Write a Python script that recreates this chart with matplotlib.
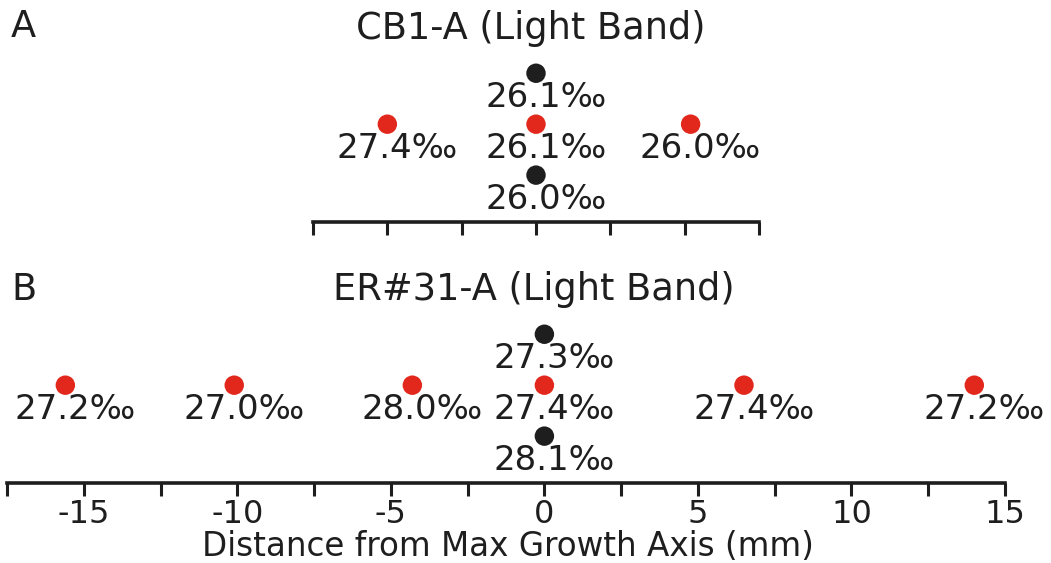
import matplotlib; matplotlib.use("Agg")
import matplotlib.pyplot as plt
from matplotlib.ticker import MultipleLocator, FuncFormatter

plt.rcParams.update({"font.family": "DejaVu Sans", "axes.unicode_minus": False})

RED = "#e2281c"
BLK = "#1e1e1e"

# panel A: CB1-A, distance (mm), row (1 = lower black, 2 = red line, 3 = upper black)
A_x = [0, -5, 0, 5.2, 0]
A_row = [3, 2, 2, 2, 1]
A_val = ["26.1", "27.4", "26.1", "26.0", "26.0"]
A_col = [BLK, RED, RED, RED, BLK]

# panel B: ER#31-A
B_x = [0, -15.6, -10.1, -4.3, 0, 6.5, 14.0, 0]
B_row = [3, 2, 2, 2, 2, 2, 2, 1]
B_val = ["27.3", "27.2", "27.0", "28.0", "27.4", "27.4", "27.2", "28.1"]
B_col = [BLK, RED, RED, RED, RED, RED, RED, BLK]

W, H = 1051, 563
fig = plt.figure(figsize=(W/100, H/100), dpi=100)

def panel(left, right, spine_y, xlim, xs, rows, vals, cols, labels):
    top = spine_y - 162
    ax = fig.add_axes([left/W, 1 - spine_y/H, (right-left)/W, (spine_y-top)/H])
    ax.set_xlim(*xlim); ax.set_ylim(0.08, 3.26)
    for s in ["top", "left", "right"]:
        ax.spines[s].set_visible(False)
    ax.spines["bottom"].set_linewidth(2.6)
    ax.spines["bottom"].set_color(BLK)
    ax.spines["bottom"].set_capstyle("projecting")
    ax.set_yticks([])
    ax.xaxis.set_major_locator(MultipleLocator(2.5))
    ax.tick_params(axis="x", direction="out", length=9.5, width=2.2, pad=2,
                   labelsize=23, labelcolor=BLK, color=BLK)
    if labels:
        ax.xaxis.set_major_formatter(FuncFormatter(lambda v, p: f"{v:g}" if v % 5 == 0 else ""))
    else:
        ax.set_xticklabels([])
    ax.scatter(xs, rows, s=14**2, c=cols, zorder=3, clip_on=False, linewidths=0)
    for x, r, v in zip(xs, rows, vals):
        ax.annotate(v + "‰", (x, r), xytext=(10, -24), textcoords="offset pixels",
                    ha="center", va="center", fontsize=24.5, color=BLK)
    return ax

axA = panel(313, 759, 222, (-7.5, 7.5), A_x, A_row, A_val, A_col, False)
axB = panel(7, 1005, 483, (-17.5, 15), B_x, B_row, B_val, B_col, True)

fig.text(508/W, 1 - 556/H, "Distance from Max Growth Axis (mm)", ha="center", va="baseline",
         fontsize=23.5, color=BLK)
fig.text(531/W, 1 - 39/H, "CB1-A (Light Band)", ha="center", va="baseline", fontsize=26.5, color=BLK)
fig.text(534/W, 1 - 300/H, "ER#31-A (Light Band)", ha="center", va="baseline", fontsize=26.5, color=BLK)
fig.text(11/W, 1 - 37/H, "A", ha="left", va="baseline", fontsize=26.5, color=BLK)
fig.text(11/W, 1 - 300/H, "B", ha="left", va="baseline", fontsize=26.5, color=BLK)

fig.savefig("out.png", dpi=100)
